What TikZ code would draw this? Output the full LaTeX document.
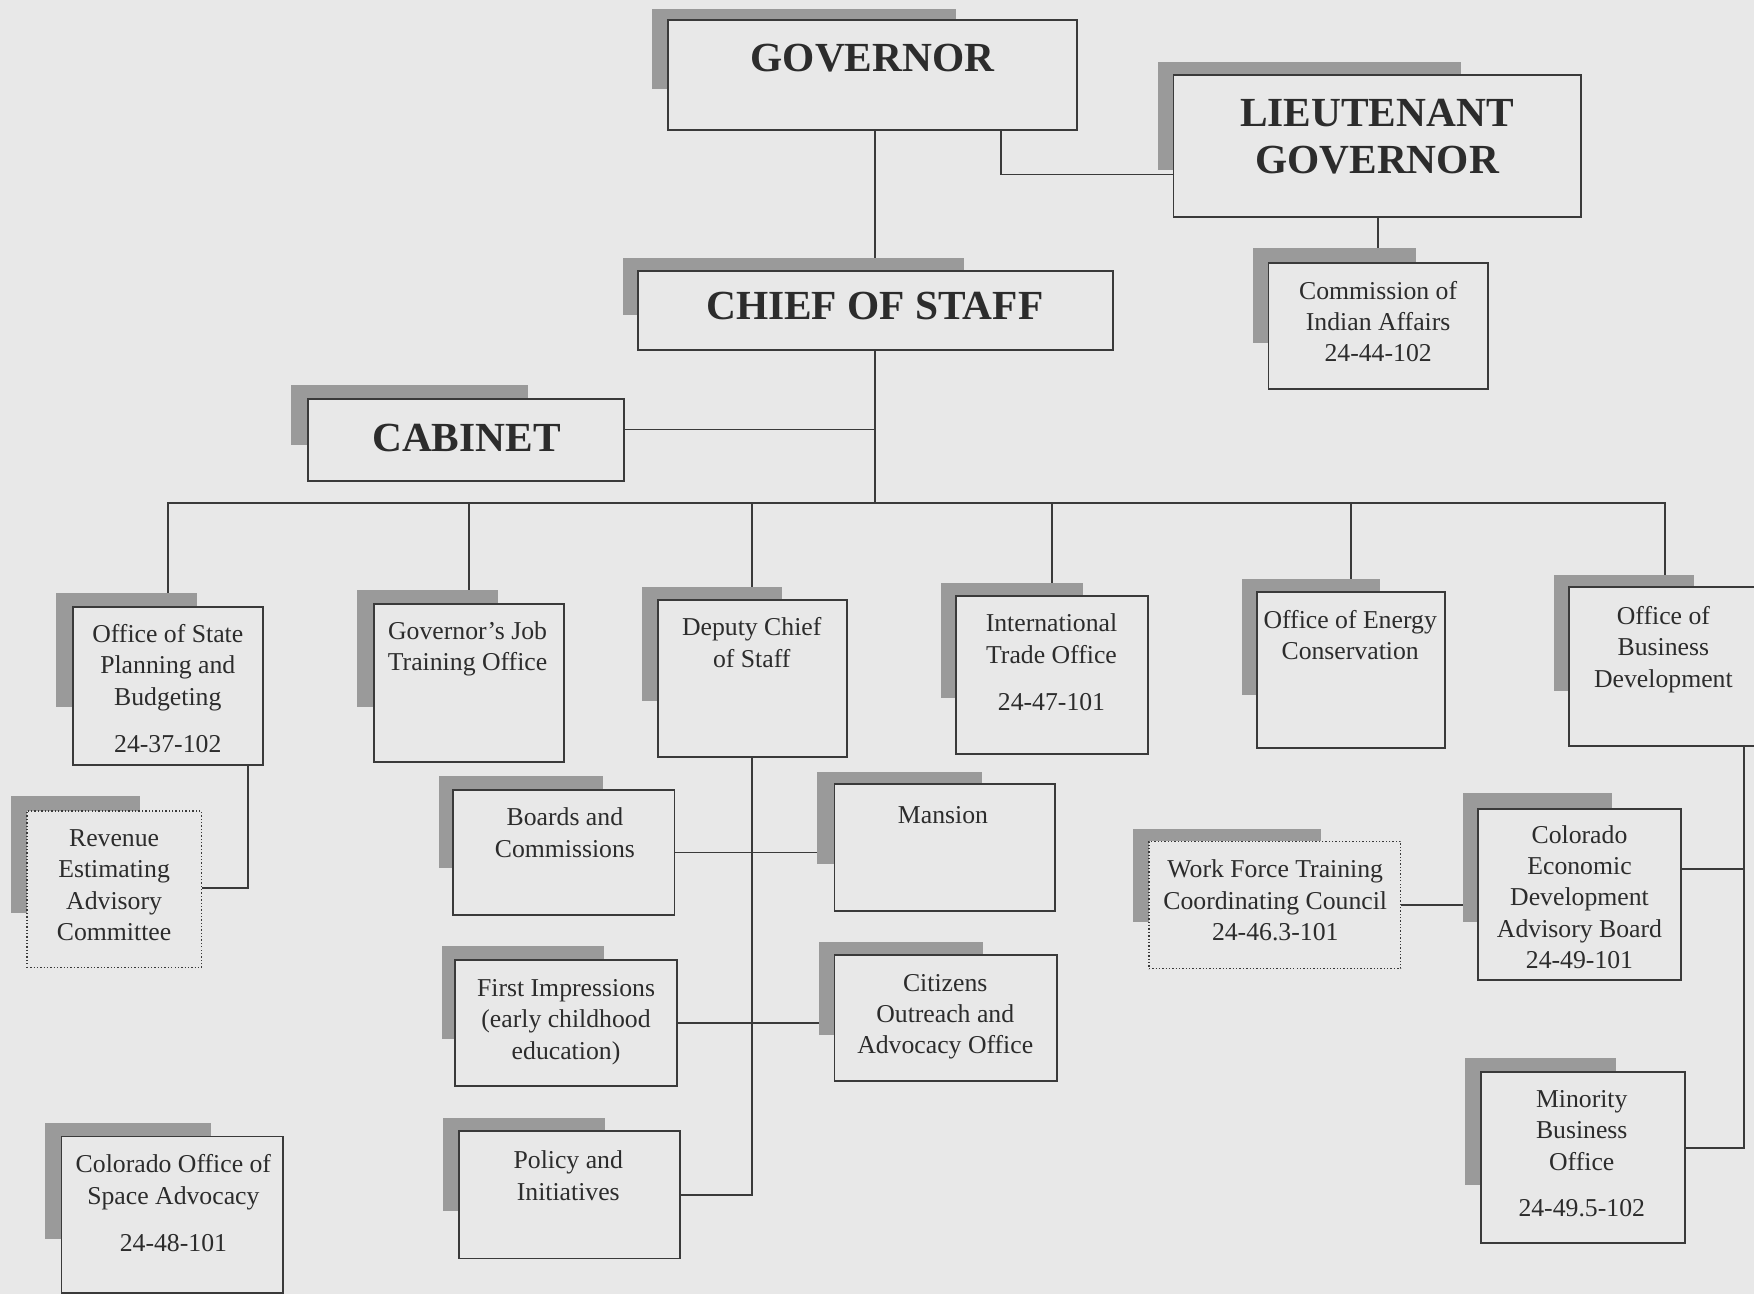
\documentclass[tikz,border=0pt]{standalone}
\usepackage{fontspec}
\setmainfont{Liberation Serif}
\definecolor{paper}{HTML}{E8E8E8}
\definecolor{ink}{HTML}{3A3A3A}
\definecolor{shadowgray}{HTML}{9A9A9A}
\definecolor{txt}{HTML}{2C2C2C}
\pgfdeclarelayer{paperlayer}
\pgfdeclarelayer{connlayer}
\pgfsetlayers{paperlayer,connlayer,main}
\newcommand\bx[6]{\node[#6, minimum width={(#4)-(#2)}, minimum height={(#5)-(#3)}] (#1) at ({((#2)+(#4))/2},{((#3)+(#5))/2}) {};}
\tikzset{
  obox/.style={rectangle, draw=ink, line width=1.7pt, fill=paper, inner sep=0pt},
  dbox/.style={rectangle, draw=ink, line width=1.2pt, dash pattern=on 1.2pt off 1.8pt, fill=paper, inner sep=0pt},
  conn/.style={draw=ink, line width=1.6pt},
  shd/.style={fill=shadowgray},
  small/.style={font=\fontsize{23}{28}\selectfont, align=center, inner sep=0pt, text=txt,
     execute at begin node=\strut, execute at end node=\strut},
  big/.style={font=\bfseries\fontsize{37}{42}\selectfont, inner sep=0pt, text=txt},
  bigml/.style={font=\bfseries\fontsize{37}{42}\selectfont, align=center, inner sep=0pt, text=txt,
     execute at begin node=\strut, execute at end node=\strut},
}
\begin{document}
\begin{tikzpicture}[x=1pt,y=-1pt]
\useasboundingbox (0,0) rectangle (1568,1157);
\clip (0,0) rectangle (1568,1157);
\begin{pgfonlayer}{paperlayer}
\fill[paper] (0,0) rectangle (1568,1157);
\end{pgfonlayer}

% ---------- shadows and boxes ----------
\fill[shd] (583,8) rectangle (855,80);
\bx{gov}{597}{18}{963}{116}{obox}
\fill[shd] (1035,55) rectangle (1306,152);
\bx{lg}{1049}{67}{1413}{194}{obox}
\fill[shd] (557,231) rectangle (862,282);
\bx{chief}{570}{242}{995}{313}{obox}
\fill[shd] (260,344) rectangle (472,398);
\bx{cab}{275}{357}{558}{430}{obox}
\fill[shd] (1120,222) rectangle (1266,307);
\bx{cia}{1134}{235}{1330}{348}{obox}

\fill[shd] (50,530) rectangle (176,632);
\bx{osp}{65}{543}{235}{684}{obox}
\fill[shd] (319,527) rectangle (445,632);
\bx{gjt}{334}{540}{504}{681}{obox}
\fill[shd] (574,525) rectangle (699,627);
\bx{dcs}{588}{536}{757}{677}{obox}
\fill[shd] (841,521) rectangle (968,624);
\bx{ito}{855}{533}{1026}{674}{obox}
\fill[shd] (1110,518) rectangle (1234,621);
\bx{oec}{1124}{529}{1292}{669}{obox}
\fill[shd] (1389,514) rectangle (1514,618);
\bx{obd}{1403}{525}{1574}{667}{obox}

\fill[shd] (10,712) rectangle (125,816);
\bx{rev}{24}{725}{180}{865}{dbox}
\fill[shd] (40,1004) rectangle (189,1108);
\bx{cosa}{55}{1016}{253}{1156}{obox}

\fill[shd] (392,694) rectangle (539,776);
\bx{bc}{405}{706}{603}{818}{obox}
\fill[shd] (730,690) rectangle (878,772);
\bx{man}{746}{701}{943}{814}{obox}
\fill[shd] (395,846) rectangle (540,929);
\bx{fi}{407}{858}{605}{971}{obox}
\fill[shd] (732,842) rectangle (879,925);
\bx{coa}{746}{854}{945}{966}{obox}
\fill[shd] (396,999) rectangle (541,1083);
\bx{pol}{410}{1011}{608}{1125}{obox}

\fill[shd] (1013,741) rectangle (1181,824);
\bx{wf}{1027}{752}{1252}{866}{dbox}
\fill[shd] (1308,709) rectangle (1441,824);
\bx{ce}{1321}{723}{1503}{876}{obox}
\fill[shd] (1310,946) rectangle (1445,1059);
\bx{mbo}{1324}{958}{1506}{1111}{obox}

% ---------- connectors (on a layer behind the boxes) ----------
\coordinate (g1) at (895,156);
\coordinate (c1) at (783,384);
\coordinate (bus) at (783,450);
\coordinate (r1) at (222,794);
\coordinate (rv) at (1559,777);
\coordinate (rv2) at (1559,1026);
\begin{pgfonlayer}{connlayer}
\draw[conn] (gov.south -| chief.north) -- (chief.north);
\draw[conn] (gov.south -| g1) |- (lg.west |- g1);
\draw[conn] (lg.south -| cia.north) -- (cia.north);
\draw[conn] (chief.south) -- (chief.south |- bus);
\draw[conn] (cab.east |- c1) -- (c1);
\draw[conn] (osp.north) -- (osp.north |- bus) -- (obd.north |- bus) -- (obd.north);
\foreach \n in {gjt,dcs,ito,oec} \draw[conn] (\n.north) -- (\n.north |- bus);
\draw[conn] (osp.south -| r1) |- (rev.east |- r1);
\draw[conn] (dcs.south) |- (pol.east);
\draw[conn] (bc.east) -- (bc.east -| man.west);
\draw[conn] (fi.east) -- (fi.east -| coa.west);
\draw[conn] (wf.east) -- (wf.east -| ce.west);
\draw[conn] (obd.south -| rv) -- (rv2) -- (mbo.east |- rv2);
\draw[conn] (ce.east |- rv) -- (rv);
\end{pgfonlayer}

% ---------- texts ----------
\node[big, anchor=base] (gov-t) at (780,64) {GOVERNOR};
\node[bigml] (lg-t) at (1231,128) {LIEUTENANT\\GOVERNOR};
\node[big, anchor=base] (chief-t) at (782,286) {CHIEF OF STAFF};
\node[big, anchor=base] (cab-t) at (417,404) {CABINET};
\node[small] (cia-t) at (1232,291.5) {Commission of\\Indian Affairs\\24-44-102};
\node[small] (osp-t) at (150,619.5) {Office of State\\Planning and\\Budgeting\\[14pt]24-37-102};
\node[small] (gjt-t) at (418,581.5) {Governor’s Job\\Training Office};
\node[small] (dcs-t) at (672,578.5) {Deputy Chief\\of Staff};
\node[small] (ito-t) at (940,596) {International\\Trade Office\\[14pt]24-47-101};
\node[small] (oec-t) at (1207,572) {Office of Energy\\Conservation};
\node[small] (obd-t) at (1487,582.5) {Office of\\Business\\Development};
\node[small] (rev-t) at (102,795.5) {Revenue\\Estimating\\Advisory\\Committee};
\node[small] (cosa-t) at (155,1079.5) {Colorado Office of\\Space Advocacy\\[14pt]24-48-101};
\node[small] (bc-t) at (505,748.5) {Boards and\\Commissions};
\node[small] (man-t) at (843,730.5) {Mansion};
\node[small] (fi-t) at (506,915.5) {First Impressions\\(early childhood\\education)};
\node[small] (coa-t) at (845,910.5) {Citizens\\Outreach and\\Advocacy Office};
\node[small] (pol-t) at (508,1055) {Policy and\\Initiatives};
\node[small] (wf-t) at (1140,809) {Work Force Training\\Coordinating Council\\24-46.3-101};
\node[small] (ce-t) at (1412,806) {Colorado\\Economic\\Development\\Advisory Board\\24-49-101};
\node[small] (mbo-t) at (1414,1035.5) {Minority\\Business\\Office\\[14pt]24-49.5-102};
\end{tikzpicture}
\end{document}
